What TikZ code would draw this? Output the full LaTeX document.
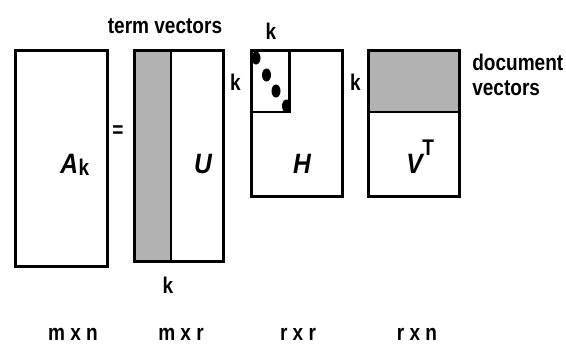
\documentclass[tikz,border=0pt]{standalone}
\usepackage{fontspec}
\setmainfont{Liberation Sans}
\newfontfamily\labfont[FakeStretch=0.84]{Liberation Sans}
\newfontfamily\bigfont[FakeStretch=0.88]{Liberation Sans}
\begin{document}
\begin{tikzpicture}[x=0.75pt,y=-0.75pt,
  mat/.style={draw=black,line width=2pt,inner sep=0pt,anchor=north west},
  shade/.style={fill=black!30},
  lbl/.style={font=\labfont\bfseries\fontsize{17}{20}\selectfont,inner sep=0pt,anchor=base},
  big/.style={font=\bigfont\bfseries\itshape\fontsize{21}{24}\selectfont,inner sep=0pt,anchor=base}]
\useasboundingbox (0,0) rectangle (566,343);
% A_k
\node[mat,minimum width=92*0.75pt,minimum height=216*0.75pt] (A) at (14,49) {};
\node[big,anchor=base west] (Al) at (60,173) {A};
\node[lbl,anchor=base west] (Ak) at (Al.base east) [yshift=-1.5pt] {k};
% =
\node[lbl] (eq) at (118,137) {=};
% U
\fill[shade] (133,49) rectangle (171,260);
\node[mat,minimum width=89*0.75pt,minimum height=211*0.75pt] (U) at (133,49) {};
\draw[line width=2pt] (U.north west) ++(38,0) coordinate (us) -- (us |- U.south);
\node[big] (Ul) at (203,173) {U};
\node[lbl] (tv) at (165,33) {term vectors};
\node[lbl] (ku) at (168,293) {k};
% H
\node[mat,minimum width=91*0.75pt,minimum height=146*0.75pt] (H) at (250,49) {};
\coordinate (hc) at (289.5,112);
\begin{scope}
\clip (H.north west) rectangle (hc);
\fill (256,58) ellipse (4.5 and 6.5);
\fill (266.5,75) ellipse (4.5 and 6.5);
\fill (276,91) ellipse (4.5 and 6.5);
\fill (286.5,106) ellipse (4.5 and 6.5);
\end{scope}
\draw[line width=2pt] (H.west |- hc) -- (hc) -- (hc |- H.north);
\node[big] (Hl) at (302,173) {H};
\node[lbl] (kh1) at (271,39) {k};
\node[lbl] (kh2) at (235.5,90) {k};
% V^T
\fill[shade] (367,49) rectangle (458,112);
\node[mat,minimum width=91*0.75pt,minimum height=146*0.75pt] (V) at (367,49) {};
\draw[line width=2pt] (V.west |- hc) -- (V.east |- hc);
\node[big,anchor=base west] (Vl) at (406,173) {V};
\node[lbl,anchor=base west] (Vt) at (422,155) {T};
\node[lbl] (kv) at (355.5,90) {k};
\node[lbl,anchor=base west] (dv1) at (472,70) {document};
\node[lbl,anchor=base west] (dv2) at (472,95) {vectors};
% dimensions
\node[lbl] (d1) at (73,340) {m x n};
\node[lbl] (d2) at (181,340) {m x r};
\node[lbl] (d3) at (298,340) {r x r};
\node[lbl] (d4) at (417,340) {r x n};
\end{tikzpicture}
\end{document}
